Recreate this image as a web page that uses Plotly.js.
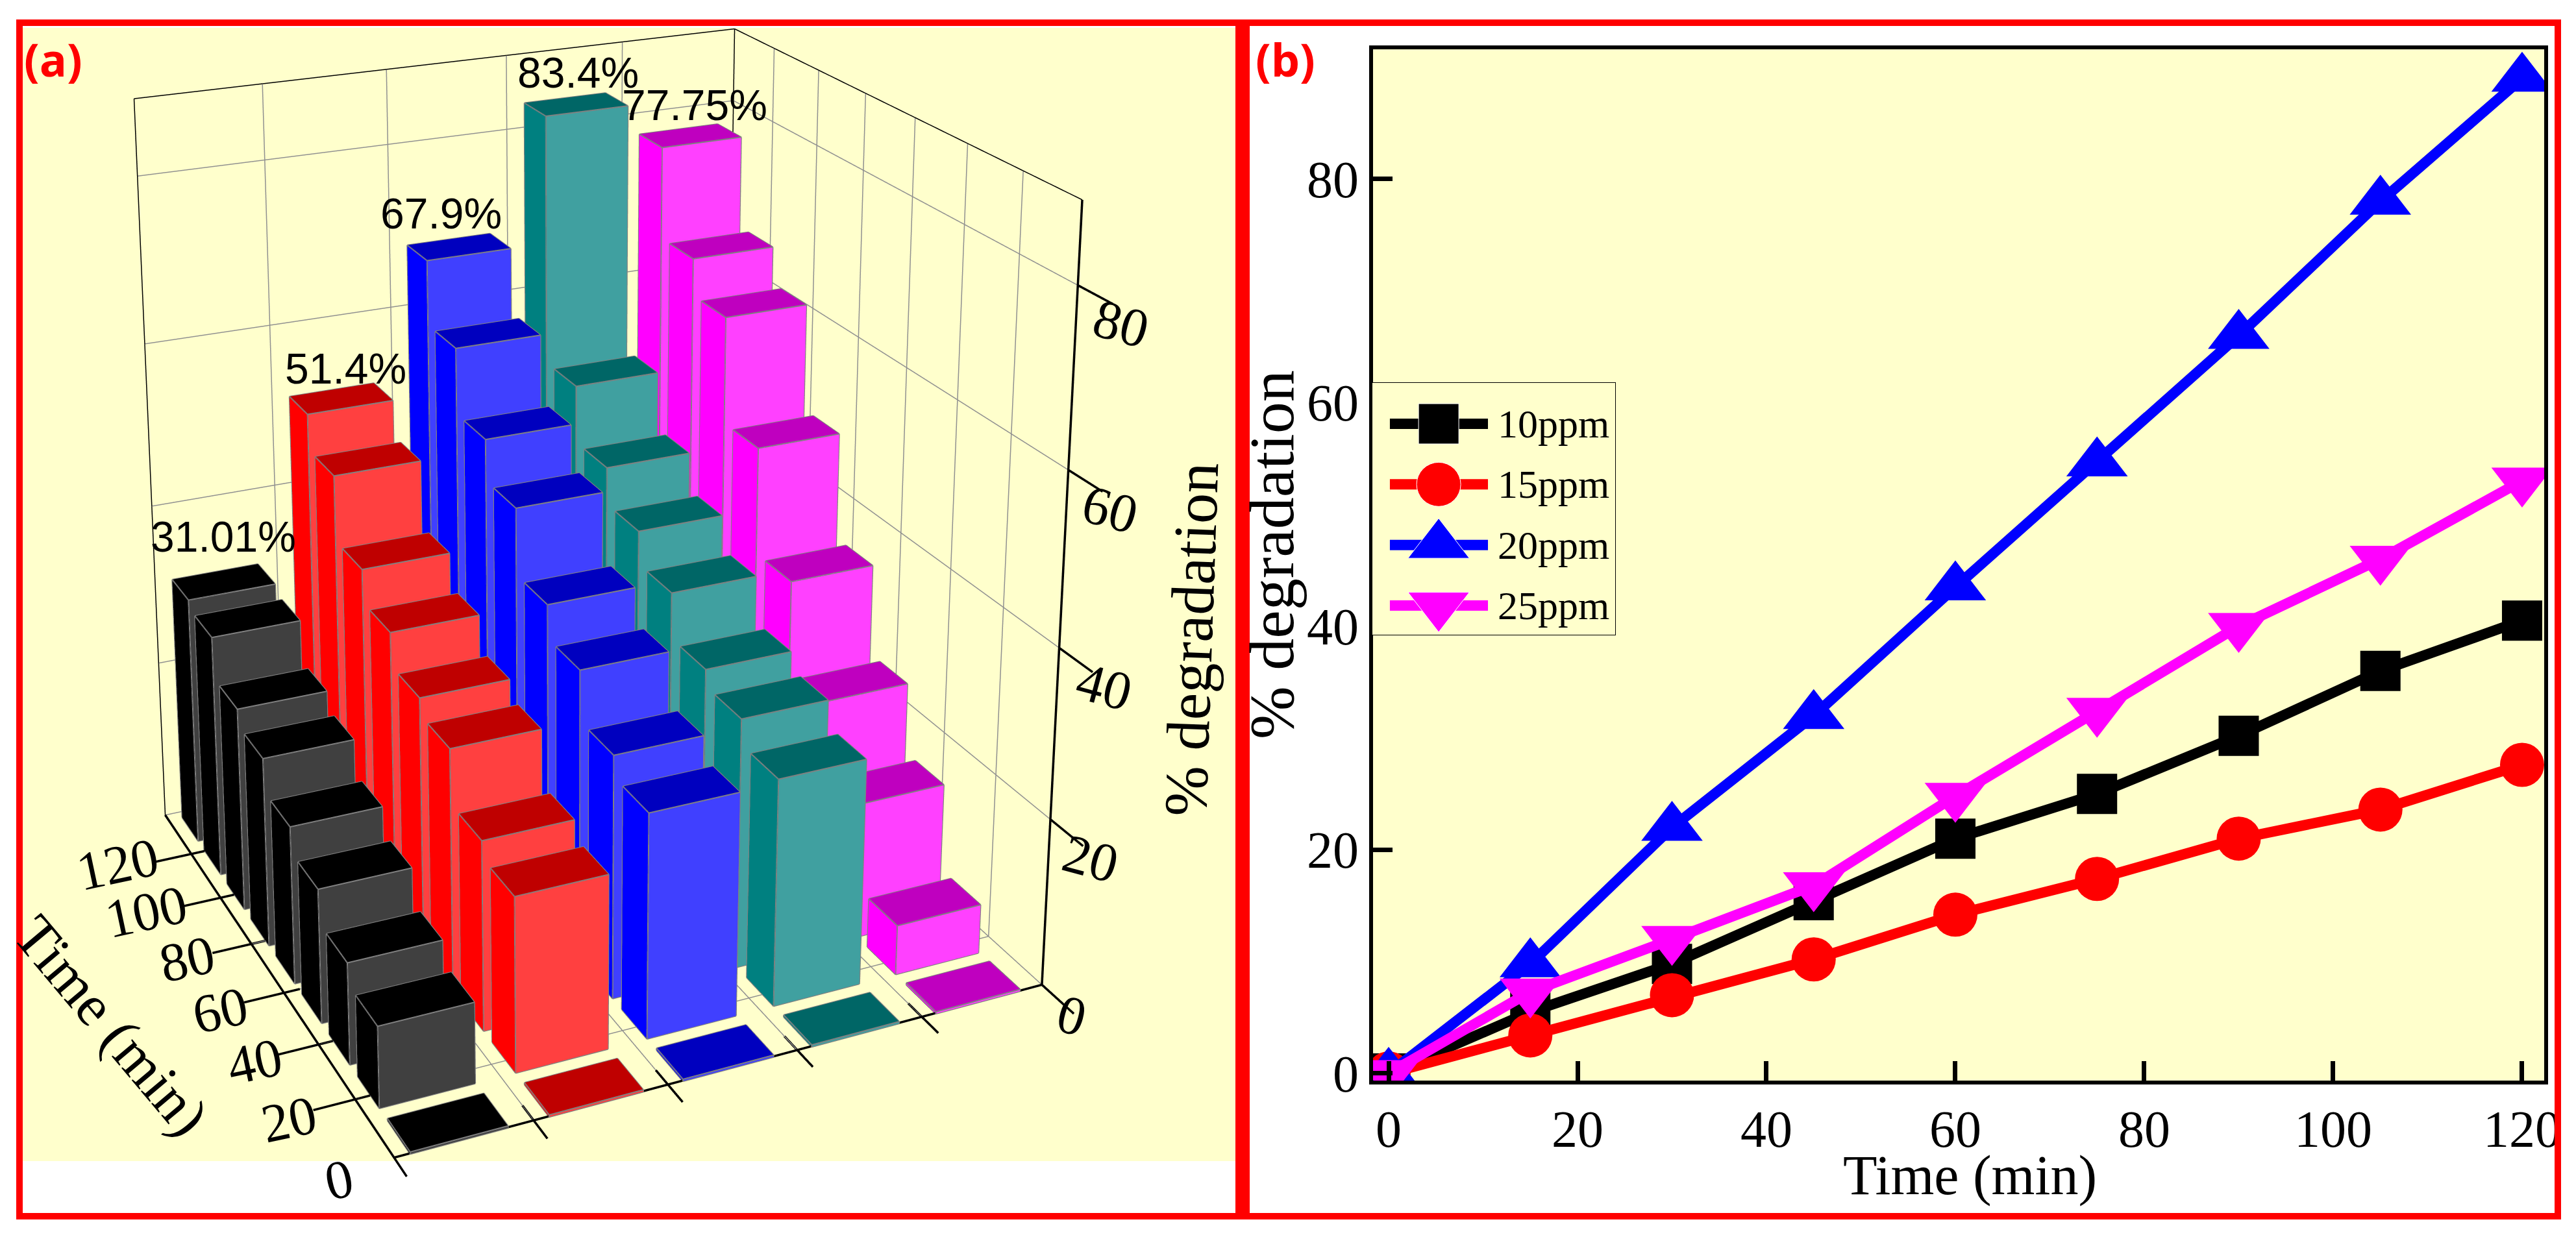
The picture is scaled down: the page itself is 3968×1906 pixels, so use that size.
<!DOCTYPE html>
<html><head><meta charset="utf-8">
<script src="https://cdn.plot.ly/plotly-3.0.1.min.js"></script>
<style>html,body{margin:0;padding:0;width:3968px;height:1906px;overflow:hidden;background:#fff}
#wrap{position:absolute;left:0;top:0;width:3968px;height:1906px;overflow:hidden}
#chart{position:absolute;left:0;top:-1692px;width:3968px;height:3923px}</style>
</head><body><div id="wrap"><div id="chart"></div></div>
<script>
// ---------- panel (a) data: % degradation per dose and time ----------
const times = [0,15,30,45,60,75,90,105,120];
const doses = [1,2,3,4,5];
const barA10 = [0,9.5,12,16,19,23,25,30,31.01];
const barA15 = [0,20.5,22.5,29,31,35,39,47,51.4];
const barA20 = [0,26.5,29,35,39,47,52,60,67.9];
const barA25 = [0,27,30,32,37.5,41.5,46,53,83.4];
const barA30 = [0,6,16.5,25,36,49,62,66.5,77.75];
const barLabels = ['31.01%','51.4%','67.9%','83.4%','77.75%'];
const labelXShift = [-8,0,-35,-4,0];
const labelYShift = [68,45,50,48,46];
const timeTickLabels = [0,20,40,60,80,100,120];
const pctTicks = [0,20,40,60,80];
const doseTicks = [1.5,2.5,3.5,4.5];
// ---------- panel (b) data ----------
const lineTime = [0,15,30,45,60,75,90,105,120];
const ppm10 = [0,5.5,9.8,15.5,21,25,30.2,36,40.5];
const ppm15 = [0,3.4,7,10.2,14.2,17.4,21,23.6,27.6];
const ppm20 = [0,9.8,22,32,43.5,54.6,66,78,89];
const ppm25 = [0,7.3,12,16.8,24.8,32.4,40,46,53];
const seriesNames = ['10ppm','15ppm','20ppm','25ppm'];
const bTickX = [0,20,40,60,80,100,120];
const bTickY = [0,20,40,60,80];

const W=3968,H=3923,TOP=-1692;
const px=x=>x/W, py=y=>1-(y-TOP)/H;
const SERIF='"Liberation Serif",serif', SANS='"Liberation Sans",Arial,sans-serif';

// scene ranges: the drawn box is [xLo,xHi]x[tLo,tHi]x[0,zHi]
const xLo=0.5,xHi=5.5,tLo=-5.25,tHi=128,zHi=89, xPad=1,tPad=15;
const halfW=0.35, barShift=-0.04, halfD=5.48;
const barStyles=[
 {top:'#000000',front:'#404040',side:'#000000'},
 {top:'#BF0000',front:'#FF4040',side:'#FF0000'},
 {top:'#0000BF',front:'#4040FF',side:'#0000FF'},
 {top:'#006666',front:'#40A0A0',side:'#008080'},
 {top:'#BF00BF',front:'#FF40FF',side:'#FF00FF'}];
const barValues=[barA10,barA15,barA20,barA25,barA30];
const traces=[];

function seg(a,list){ a.x.push(list[0][0],list[1][0],null); a.y.push(list[0][1],list[1][1],null); a.z.push(list[0][2],list[1][2],null); }
function lines(segs,color,width){
  const a={x:[],y:[],z:[]}; segs.forEach(s=>seg(a,s));
  return {type:'scatter3d',mode:'lines',x:a.x,y:a.y,z:a.z,line:{color:color,width:width},hoverinfo:'skip',showlegend:false};
}
// grid
const timeTickPos=timeTickLabels.map(v=>tLo+(v/138.7)*(tHi-tLo));
const grid=[];
doseTicks.forEach(d=>{grid.push([[d,tLo,0],[d,tHi,0]]);grid.push([[d,tHi,0],[d,tHi,zHi]]);});
timeTickPos.forEach(t=>{if(t>tLo+.1){grid.push([[xLo,t,0],[xHi,t,0]]);grid.push([[xHi,t,0],[xHi,t,zHi]]);}});
pctTicks.slice(1).forEach(p=>{grid.push([[xLo,tHi,p],[xHi,tHi,p]]);grid.push([[xHi,tLo,p],[xHi,tHi,p]]);});
grid.push([[xLo,tHi,0],[xHi,tHi,0]]);grid.push([[xHi,tLo,0],[xHi,tHi,0]]);
traces.push(lines(grid,'#909090',3));
// box
traces.push(lines([[[xLo,tHi,zHi],[xHi,tHi,zHi]],[[xHi,tHi,zHi],[xHi,tLo,zHi]],[[xLo,tHi,0],[xLo,tHi,zHi]],[[xHi,tHi,0],[xHi,tHi,zHi]]],'#000000',3));
const thick=[[[xLo,tLo,0],[xHi,tLo,0]],[[xLo,tLo,0],[xLo,tHi,0]],[[xHi,tLo,0],[xHi,tLo,zHi]],[[xLo,tLo-6,0],[xLo,tLo,0]]];
pctTicks.forEach(p=>thick.push([[xHi,tLo,p],[xHi,tLo-11,p]]));
doseTicks.forEach(d=>thick.push([[d,tLo+5,0],[d,tLo-6,0]]));
timeTickPos.slice(1).forEach(t=>thick.push([[xLo-.3,t,0],[xLo+.12,t,0]]));
traces.push(lines(thick,'#000000',7));
// bars
doses.forEach((d,c)=>{
  const vx=[],vy=[],vz=[],I=[],J=[],K=[],fc=[],edges=[],s=barStyles[c];
  function quad(p,col){const n=vx.length;p.forEach(q=>{vx.push(q[0]);vy.push(q[1]);vz.push(q[2]);});I.push(n,n);J.push(n+1,n+2);K.push(n+2,n+3);fc.push(col,col);}
  times.forEach((t,r)=>{
    const v=Math.max(barValues[c][r],0.25);
    const x0=d+barShift-halfW,x1=d+barShift+halfW,y0=t-halfD,y1=t+halfD;
    quad([[x0,y0,v],[x1,y0,v],[x1,y1,v],[x0,y1,v]],s.top);
    quad([[x0,y0,0],[x1,y0,0],[x1,y0,v],[x0,y0,v]],s.front);
    quad([[x0,y0,0],[x0,y1,0],[x0,y1,v],[x0,y0,v]],s.side);
    [[[x0,y0,v],[x1,y0,v]],[[x1,y0,v],[x1,y1,v]],[[x1,y1,v],[x0,y1,v]],[[x0,y1,v],[x0,y0,v]],
     [[x0,y0,0],[x1,y0,0]],[[x0,y0,0],[x0,y1,0]],[[x0,y0,0],[x0,y0,v]],[[x1,y0,0],[x1,y0,v]],[[x0,y1,0],[x0,y1,v]]].forEach(e=>edges.push(e));
  });
  traces.push({type:'mesh3d',x:vx,y:vy,z:vz,i:I,j:J,k:K,facecolor:fc,flatshading:true,
    lighting:{ambient:1,diffuse:0,specular:0,fresnel:0,roughness:1},hoverinfo:'skip',showlegend:false});
  traces.push(lines(edges,'#808080',4));
});

// panel (b)
const bColors=['#000000','#FF0000','#0000FF','#FF00FF'];
const bSymbols=['square','circle','triangle-up','triangle-down'];
const bSizes=[62,68,82,82];
[ppm10,ppm15,ppm20,ppm25].forEach((ser,i)=>{
  traces.push({type:'scatter',mode:'lines+markers',x:lineTime,y:ser,name:seriesNames[i],xaxis:'x',yaxis:'y',
    line:{color:bColors[i],width:16},marker:{symbol:bSymbols[i],size:bSizes[i],color:bColors[i],opacity:1},hoverinfo:'skip',showlegend:false});
  const row=3-i;
  traces.push({type:'scatter',mode:'lines+markers',x:[0.072,0.273,0.476],y:[row,row,row],xaxis:'x2',yaxis:'y2',
    line:{color:bColors[i],width:16},marker:{symbol:bSymbols[i],size:[0,bSizes[i],0],color:bColors[i],opacity:1},hoverinfo:'skip',showlegend:false});
});

const annotations=[];
function label(text,x,y,size,angle,extra){annotations.push(Object.assign({text:String(text),xref:'paper',yref:'paper',x:px(x),y:py(y),showarrow:false,xanchor:'center',yanchor:'middle',textangle:angle||0,font:{family:SERIF,size:size,color:'#000'}},extra||{}));}
const zLabelPos=[[1651,1564],[1680,1322],[1701,1057],[1710,784],[1727,498]];
pctTicks.forEach((p,i)=>label(p,zLabelPos[i][0],zLabelPos[i][1],84,15));
const tLabelPos=[[522,1817],[445,1724],[392,1635],[339,1556],[288,1477],[225,1404],[181,1331]];
timeTickLabels.forEach((v,i)=>label(v,tLabelPos[i][0],tLabelPos[i][1],84,-12));
label('% degradation',1835,985,94,-88);
label('Time (min)',171,1580,90,50);
label('(a)',82,91,70,0,{font:{family:'"Open Sans",sans-serif',size:70,color:'#FF0000',weight:700}});
label('(b)',1980,91,70,0,{font:{family:'"Open Sans",sans-serif',size:70,color:'#FF0000',weight:700}});
label('% degradation',1959,855,98,-90);
label('Time (min)',3034,1811,86,0);
seriesNames.forEach((n,i)=>annotations.push({text:n,xref:'x2',yref:'y2',x:0.51,y:3-i,showarrow:false,xanchor:'left',yanchor:'middle',font:{family:SERIF,size:62,color:'#000'}}));

const sceneAnn=barLabels.map((t,c)=>({x:doses[c],y:120,z:barValues[c][8],text:t,showarrow:false,xanchor:'center',yanchor:'middle',yshift:labelYShift[c],xshift:labelXShift[c],font:{family:SANS,size:66,color:'#000'}}));

const hiddenAxis=(r)=>({visible:false,range:r,autorange:false,showspikes:false});
const layout={
  width:W,height:H,margin:{l:0,r:0,t:0,b:0,pad:0},paper_bgcolor:'#FFFFFF',plot_bgcolor:'#FFFFCC',showlegend:false,
  shapes:[
    {type:'rect',xref:'paper',yref:'paper',x0:px(35),x1:px(1903),y0:py(43),y1:py(1789),fillcolor:'#FFFFCC',line:{width:0},layer:'below'},
    {type:'rect',xref:'x2 domain',yref:'y2 domain',x0:0,x1:1,y0:0,y1:1,fillcolor:'#FFFFFF',line:{color:'#000',width:2},layer:'below'},
    {type:'rect',xref:'paper',yref:'paper',x0:px(30),x1:px(3940),y0:py(35),y1:py(1874),line:{color:'#FF0000',width:10},fillcolor:'rgba(0,0,0,0)',layer:'above'},
    {type:'rect',xref:'paper',yref:'paper',x0:px(1903),x1:px(1925),y0:py(35),y1:py(1874),line:{width:0},fillcolor:'#FF0000',layer:'above'}
  ],
  annotations:annotations,
  scene:{domain:{x:[0,1760/W],y:[0,1]},bgcolor:'rgba(0,0,0,0)',aspectmode:'manual',
    aspectratio:{x:1.4,y:(tHi-tLo+2*tPad)/(tHi-tLo),z:1.186},
    xaxis:hiddenAxis([xLo-xPad,xHi+xPad]),yaxis:hiddenAxis([tLo-tPad,tHi+tPad]),zaxis:hiddenAxis([0,zHi]),
    camera:{eye:{x:-1.7286,y:-3.7551,z:1.8257},center:{x:0.0505,y:0.1475,z:0.5034},up:{x:0,y:0,z:1},projection:{type:'perspective'}},
    annotations:sceneAnn,dragmode:false},
  xaxis:{domain:[px(2115),px(3919)],range:[-1.65,122.34],anchor:'y',tickmode:'array',tickvals:bTickX,ticks:'inside',ticklen:30,tickwidth:7,tickcolor:'#000',
    showgrid:false,zeroline:false,showline:true,linewidth:6,linecolor:'#000',mirror:true,tickfont:{family:SERIF,size:80,color:'#000'}},
  yaxis:{domain:[py(1665),py(76)],range:[-0.64,91.6],anchor:'x',tickmode:'array',tickvals:bTickY,ticks:'inside',ticklen:30,tickwidth:7,tickcolor:'#000',
    showgrid:false,zeroline:false,showline:true,linewidth:6,linecolor:'#000',mirror:true,tickfont:{family:SERIF,size:80,color:'#000'}},
  xaxis2:{domain:[px(2114),px(2488)],range:[0,1],anchor:'y2',visible:false,fixedrange:true},
  yaxis2:{domain:[py(978),py(590)],range:[-0.482,3.675],anchor:'x2',visible:false,fixedrange:true}
};
Plotly.newPlot('chart',traces,layout,{displayModeBar:false,staticPlot:false,responsive:false,plotGlPixelRatio:2});
</script></body></html>
